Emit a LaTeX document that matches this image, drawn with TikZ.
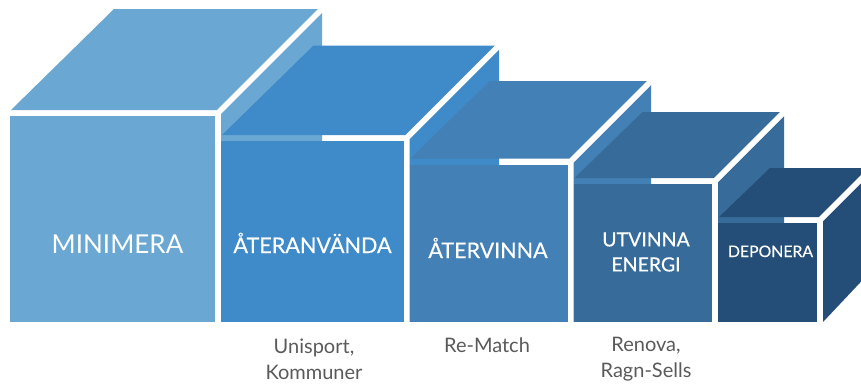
\documentclass[tikz,border=0pt]{standalone}
\usepackage{fontspec}
\setmainfont{Lato}
\newfontfamily\medfont[FakeBold=0.4]{Lato}
\definecolor{cA}{HTML}{6AA8D3}
\definecolor{cB}{HTML}{3F8AC8}
\definecolor{cC}{HTML}{4280B5}
\definecolor{cD}{HTML}{376C9A}
\definecolor{cE}{HTML}{244E77}
\definecolor{subgray}{HTML}{5A5A5A}
\newcommand\drawcube[5]{%
  \fill[#5] (#1,#3+3) rectangle (#2-3,322);
  \fill[#5] (#1+1,#3-3) -- (#2-1.24,#3-3) -- (#2+#4-4.24,#3-#4) -- (#1+#4,#3-#4) -- cycle;
  \fill[#5] (#2+3,322) -- (#2+3,#3+1.24) -- (#2+#4,#3-#4+4.24) -- (#2+#4,322-#4) -- cycle;
}
\begin{document}
\begin{tikzpicture}[x=1pt,y=-1pt,
  lbl/.style={text=white, inner sep=0pt, anchor=base},
  sublbl/.style={text=subgray, inner sep=0pt, align=center, font=\fontsize{20}{26}\selectfont}]
\useasboundingbox (0,0) rectangle (861,383);
\drawcube{10}{218}{113}{104}{cA}
\drawcube{221}{406.5}{138}{92.5}{cB}
\drawcube{409.5}{570.5}{161.5}{80.5}{cC}
\drawcube{573.5}{715}{181}{69}{cD}
\drawcube{718}{820}{220}{52}{cE}
\node[lbl, font=\fontsize{26}{30}\selectfont] (minimera) at (117.5,253) {MINIMERA};
\node[lbl, font=\medfont\fontsize{21.6}{28}\selectfont] (ateranvanda) at (312.5,253) {ÅTERANVÄNDA};
\node[lbl, font=\medfont\fontsize{21.5}{26}\selectfont] (atervinna) at (488,258) {ÅTERVINNA};
\node[lbl, align=center, anchor=center, font=\medfont\fontsize{19.5}{25}\selectfont] (utvinna) at (646,252) {UTVINNA\\ENERGI};
\node[lbl, font=\medfont\fontsize{15.8}{20}\selectfont] (deponera) at (770.5,257) {DEPONERA};
\node[sublbl] (unisport) at (314,359) {Unisport,\\Kommuner};
\node[sublbl, anchor=base] (rematch) at (487,352) {Re-Match};
\node[sublbl] (renova) at (646,359) {Renova,\\Ragn-Sells};
\end{tikzpicture}
\end{document}
